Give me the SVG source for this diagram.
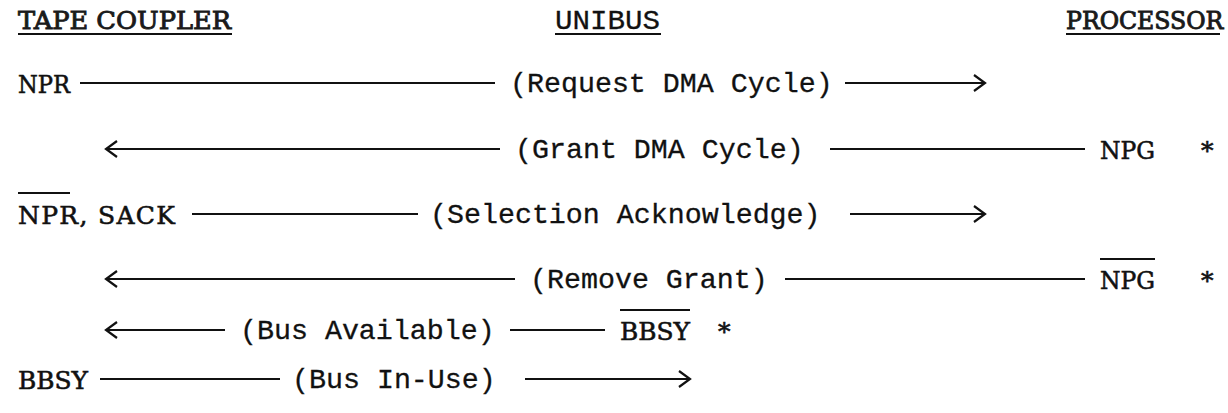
<svg xmlns="http://www.w3.org/2000/svg" width="1228" height="413" viewBox="0 0 1228 413">
  <defs>
    <style>
      .hd { font-family: "DejaVu Serif", "Liberation Serif", serif; font-size: 25px; fill: #1a1a1a; stroke: #1a1a1a; stroke-width: 0.9; }
      .sig { font-family: "DejaVu Serif", "Liberation Serif", serif; font-size: 25px; fill: #111; stroke: #111; stroke-width: 0.6; }
      .lbl { font-family: "Liberation Mono", "Courier New", monospace; font-size: 28.3px; fill: #111; stroke: #111; stroke-width: 0.3; }
      .ln { stroke: #111; stroke-width: 2.2; fill: none; }
      .ul { stroke: #111; stroke-width: 2.2; fill: none; }
    </style>
    <marker id="ah" markerWidth="14" markerHeight="20" refX="12" refY="10" orient="auto" markerUnits="userSpaceOnUse">
      <polyline points="1,2 12,10 1,18" fill="none" stroke="#111" stroke-width="2.2"/>
    </marker>
  </defs>
  <rect width="1228" height="413" fill="#ffffff"/>

  <g id="header-tape-coupler">
    <text class="hd" x="18" y="29" textLength="213" lengthAdjust="spacingAndGlyphs">TAPE COUPLER</text>
    <line class="ul" x1="18" y1="34" x2="232" y2="34"/>
  </g>
  <g id="header-unibus">
    <text class="lbl" x="555" y="29" textLength="105" lengthAdjust="spacingAndGlyphs">UNIBUS</text>
    <line class="ul" x1="555" y1="34" x2="661" y2="34"/>
  </g>
  <g id="header-processor">
    <text class="hd" x="1066" y="29" style="font-size:23.6px">PROCESSOR</text>
    <line class="ul" x1="1066" y1="34" x2="1220" y2="34"/>
  </g>

  <g id="connectors">
    <line class="ln" x1="80" y1="83" x2="495" y2="83"/>
    <line class="ln" x1="845" y1="83" x2="985" y2="83" marker-end="url(#ah)"/>
    <line class="ln" x1="500" y1="149" x2="106" y2="149" marker-end="url(#ah)"/>
    <line class="ln" x1="830" y1="149" x2="1085" y2="149"/>
    <line class="ln" x1="192" y1="214" x2="418" y2="214"/>
    <line class="ln" x1="850" y1="214" x2="985" y2="214" marker-end="url(#ah)"/>
    <line class="ln" x1="515" y1="279" x2="106" y2="279" marker-end="url(#ah)"/>
    <line class="ln" x1="785" y1="279" x2="1085" y2="279"/>
    <line class="ln" x1="225" y1="330" x2="106" y2="330" marker-end="url(#ah)"/>
    <line class="ln" x1="510" y1="330" x2="605" y2="330"/>
    <line class="ln" x1="100" y1="379" x2="280" y2="379"/>
    <line class="ln" x1="525" y1="379" x2="690" y2="379" marker-end="url(#ah)"/>
  </g>

  <g id="row1-npr">
    <text class="sig" x="18" y="93" textLength="52" lengthAdjust="spacingAndGlyphs">NPR</text>
  </g>
  <g id="row1-request">
    <text class="lbl" x="510" y="92">(Request DMA Cycle)</text>
  </g>

  <g id="row2-grant">
    <text class="lbl" x="515" y="158">(Grant DMA Cycle)</text>
  </g>
  <g id="row2-npg">
    <text class="sig" x="1100" y="159" textLength="55" lengthAdjust="spacingAndGlyphs">NPG</text>
    <text class="sig" x="1201" y="159">*</text>
  </g>

  <g id="row3-npr-sack">
    <text class="sig" x="18" y="224" textLength="157" lengthAdjust="spacing">NPR, SACK</text>
    <line class="ul" x1="18" y1="193" x2="70" y2="193"/>
  </g>
  <g id="row3-selection">
    <text class="lbl" x="430" y="223">(Selection Acknowledge)</text>
  </g>

  <g id="row4-remove">
    <text class="lbl" x="530" y="288">(Remove Grant)</text>
  </g>
  <g id="row4-npg-bar">
    <text class="sig" x="1100" y="289" textLength="55" lengthAdjust="spacingAndGlyphs">NPG</text>
    <line class="ul" x1="1100" y1="259" x2="1155" y2="259"/>
    <text class="sig" x="1201" y="289">*</text>
  </g>

  <g id="row5-available">
    <text class="lbl" x="240" y="339">(Bus Available)</text>
  </g>
  <g id="row5-bbsy-bar">
    <text class="sig" x="620" y="340" textLength="70" lengthAdjust="spacingAndGlyphs">BBSY</text>
    <line class="ul" x1="620" y1="310" x2="690" y2="310"/>
    <text class="sig" x="718" y="340">*</text>
  </g>

  <g id="row6-bbsy">
    <text class="sig" x="18" y="389" textLength="70" lengthAdjust="spacingAndGlyphs">BBSY</text>
  </g>
  <g id="row6-inuse">
    <text class="lbl" x="292" y="388">(Bus In-Use)</text>
  </g>
</svg>
